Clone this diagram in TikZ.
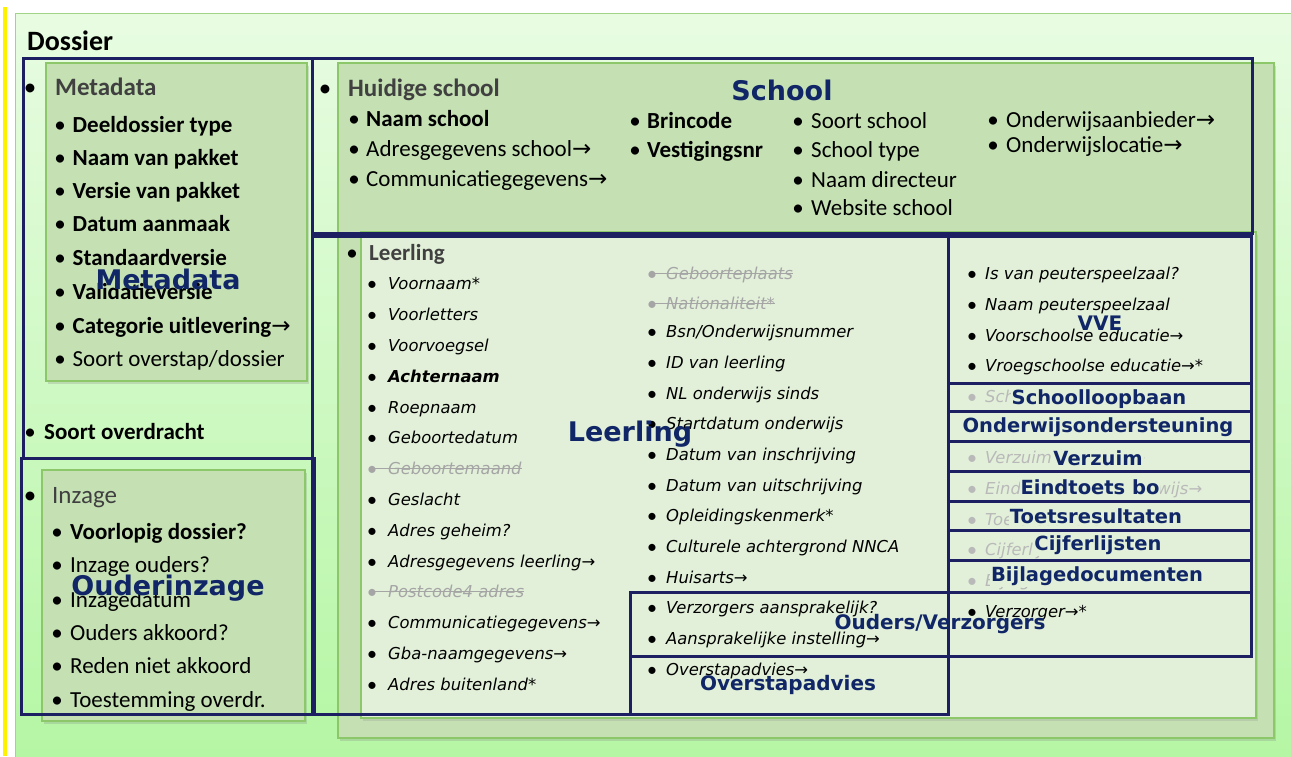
\documentclass[tikz,border=0pt]{standalone}
\usepackage{fontspec}
\setmainfont{Carlito}
\newfontfamily\vfont{DejaVu Sans}
\newfontfamily\arrfont{DejaVu Sans}
\usetikzlibrary{shadows}
\definecolor{navy}{RGB}{28,32,98}
\definecolor{lbl}{RGB}{16,38,102}
\definecolor{midgreen}{RGB}{197,225,180}
\definecolor{lightin}{RGB}{226,240,217}
\definecolor{gborder}{RGB}{140,200,105}
\definecolor{hdr}{RGB}{64,64,64}
\definecolor{strk}{RGB}{165,165,165}
\definecolor{hid}{RGB}{185,185,185}
\definecolor{bgtop}{RGB}{232,252,226}
\definecolor{bgbot}{RGB}{180,246,163}
\definecolor{frame}{RGB}{160,212,135}
\newcommand\bul{{\normalfont\mdseries\upshape •}}
\newcommand\bi[2]{\makebox[#1pt][c]{\bul}#2}
\newcommand\bj[2]{\makebox[#1pt][c]{\raisebox{-1pt}{\normalfont\mdseries\upshape\fontsize{20}{20}\selectfont •}}#2}
\newcommand\ar{{\arrfont\upshape\mdseries →}}
\tikzset{
  cal/.style={anchor=base west, inner sep=0pt, font=\fontsize{23}{23}\selectfont},
  calb/.style={anchor=base west, inner sep=0pt, font=\fontsize{23}{23}\selectfont\bfseries},
  hd/.style={anchor=base west, inner sep=0pt, font=\fontsize{25}{25}\selectfont\bfseries},
  it/.style={anchor=base west, inner sep=0pt, font=\vfont\fontsize{16.4}{16.4}\selectfont\itshape},
  big/.style={font=\vfont\fontsize{27}{27}\selectfont\bfseries, text=lbl, inner sep=0pt},
  sm/.style={font=\vfont\fontsize{19.5}{19.5}\selectfont\bfseries, text=lbl, inner sep=0pt},
  rowlbl/.style={sm, fill=lightin, inner sep=1pt},
  nbox/.style={draw=navy, line width=3pt},
  gbox/.style={draw=gborder, line width=1.2pt, fill=midgreen,
    drop shadow={shadow xshift=2pt, shadow yshift=-3pt, opacity=0.25}},
  strike/.style={draw=strk, line width=1pt},
}
\begin{document}
\begin{tikzpicture}[x=1pt,y=-1pt]
\useasboundingbox (0,0) rectangle (1291,756);
\fill[white] (0,0) rectangle (1291,756);
% yellow line and outer frame
\fill[yellow] (3,7) rectangle (7,756);
\draw[draw=frame, line width=1pt, top color=bgtop, bottom color=bgbot] (15,13) rectangle (1300,770);
\node[hd, anchor=base west, font=\fontsize{28}{28}\selectfont\bfseries] (dossier) at (27,50) {Dossier};

% green boxes
\draw[gbox] (46,63) rectangle (307,381);
\draw[gbox] (42,470) rectangle (305,721);
\draw[gbox] (338,63) rectangle (1274,738);
\draw[draw=gborder, line width=1.2pt, fill=lightin,
  drop shadow={shadow xshift=2pt, shadow yshift=-3pt, opacity=0.2}] (361,232) rectangle (1256,718);

% Metadata
\node[hd] (mh) at (5,95) {\bi{50}{\textcolor{hdr}{Metadata}}};
\node[calb] (m1) at (47.5,132) {\bi{25}{Deeldossier type}};
\node[calb] (m2) at (47.5,165) {\bi{25}{Naam van pakket}};
\node[calb] (m3) at (47.5,198) {\bi{25}{Versie van pakket}};
\node[calb] (m4) at (47.5,231) {\bi{25}{Datum aanmaak}};
\node[calb] (m5) at (47.5,265) {\bi{25}{Standaardversie}};
\node[calb] (m6) at (47.5,299) {\bi{25}{Validatieversie}};
\node[calb] (m7) at (47.5,333) {\bi{25}{Categorie uitlevering\ar}};
\node[cal]  (m8) at (47.5,366) {\bi{25}{Soort overstap/dossier}};
\node[calb] (so) at (16,439) {\bi{28}{Soort overdracht}};

% Inzage
\node[cal, font=\fontsize{25}{25}\selectfont] (ih) at (8,503) {\bi{44}{\textcolor{hdr}{Inzage}}};
\node[calb] (i1) at (44,539) {\bi{26}{Voorlopig dossier?}};
\node[cal]  (i2) at (44,572) {\bi{26}{Inzage ouders?}};
\node[cal]  (i3) at (44,607) {\bi{26}{Inzagedatum}};
\node[cal]  (i4) at (44,640) {\bi{26}{Ouders akkoord?}};
\node[cal]  (i5) at (44,673) {\bi{26}{Reden niet akkoord}};
\node[cal]  (i6) at (44,707) {\bi{26}{Toestemming overdr.}};

% School
\node[hd] (sh) at (302,96) {\bi{46}{\textcolor{hdr}{Huidige school}}};
\node[calb] (s1) at (342,126) {\bi{24}{Naam school}};
\node[cal]  (s2) at (342,156) {\bi{24}{Adresgegevens school\ar}};
\node[cal]  (s3) at (342,186) {\bi{24}{Communicatiegegevens\ar}};
\node[calb] (s4) at (623,128) {\bi{24}{Brincode}};
\node[calb] (s5) at (623,157) {\bi{24}{Vestigingsnr}};
\node[cal]  (s6) at (785,128) {\bi{26}{Soort school}};
\node[cal]  (s7) at (785,157) {\bi{26}{School type}};
\node[cal]  (s8) at (785,187) {\bi{26}{Naam directeur}};
\node[cal]  (s9) at (785,215) {\bi{26}{Website school}};
\node[cal]  (s10) at (980,127) {\bi{26}{Onderwijsaanbieder\ar}};
\node[cal]  (s11) at (980,152) {\bi{26}{Onderwijslocatie\ar}};

% Leerling left column
\node[calb] (lh) at (335,260) {\bi{34}{\textcolor{hdr}{Leerling}}};
\node[it] (l1) at (356,289) {\bj{32}{Voornaam*}};
\node[it] (l2) at (356,320) {\bj{32}{Voorletters}};
\node[it] (l3) at (356,351) {\bj{32}{Voorvoegsel}};
\node[it, font=\vfont\fontsize{16.4}{16.4}\selectfont\itshape\bfseries] (l4) at (356,382) {\bj{32}{Achternaam}};
\node[it] (l5) at (356,413) {\bj{32}{Roepnaam}};
\node[it] (l6) at (356,443) {\bj{32}{Geboortedatum}};
\node[it, text=strk] (l7) at (356,474) {\bj{32}{Geboortemaand}};
\node[it] (l8) at (356,505) {\bj{32}{Geslacht}};
\node[it] (l9) at (356,536) {\bj{32}{Adres geheim?}};
\node[it] (l10) at (356,567) {\bj{32}{Adresgegevens leerling\ar}};
\node[it, text=strk] (l11) at (356,597) {\bj{32}{Postcode4 adres}};
\node[it] (l12) at (356,628) {\bj{32}{Communicatiegegevens\ar}};
\node[it] (l13) at (356,659) {\bj{32}{Gba-naamgegevens\ar}};
\node[it] (l14) at (356,690) {\bj{32}{Adres buitenland*}};
\draw[strike] ([xshift=14pt,yshift=5.5pt]l7.base west) -- ([yshift=5.5pt]l7.base east);
\draw[strike] ([xshift=14pt,yshift=5.5pt]l11.base west) -- ([yshift=5.5pt]l11.base east);

% Leerling middle column
\node[it, text=strk] (c1) at (638,279) {\bj{28}{Geboorteplaats}};
\node[it, text=strk] (c2) at (638,309) {\bj{28}{Nationaliteit*}};
\node[it] (c3) at (638,337) {\bj{28}{Bsn/Onderwijsnummer}};
\node[it] (c4) at (638,368) {\bj{28}{ID van leerling}};
\node[it] (c5) at (638,399) {\bj{28}{NL onderwijs sinds}};
\node[it] (c6) at (638,429) {\bj{28}{Startdatum onderwijs}};
\node[it] (c7) at (638,460) {\bj{28}{Datum van inschrijving}};
\node[it] (c8) at (638,491) {\bj{28}{Datum van uitschrijving}};
\node[it] (c9) at (638,521) {\bj{28}{Opleidingskenmerk*}};
\node[it] (c10) at (638,552) {\bj{28}{Culturele achtergrond NNCA}};
\node[it] (c11) at (638,583) {\bj{28}{Huisarts\ar}};
\node[it] (c12) at (638,613) {\bj{28}{Verzorgers aansprakelijk?}};
\node[it] (c13) at (638,644) {\bj{28}{Aansprakelijke instelling\ar}};
\node[it] (c14) at (638,675) {\bj{28}{Overstapadvies\ar}};
\draw[strike] ([xshift=12pt,yshift=5.5pt]c1.base west) -- ([yshift=5.5pt]c1.base east);
\draw[strike] ([xshift=12pt,yshift=5.5pt]c2.base west) -- ([yshift=5.5pt]c2.base east);

% VVE column
\node[it] (v1) at (959,279) {\bj{26}{Is van peuterspeelzaal?}};
\node[it] (v2) at (959,310) {\bj{26}{Naam peuterspeelzaal}};
\node[it] (v3) at (959,341) {\bj{26}{Voorschoolse educatie\ar}};
\node[it] (v4) at (959,371) {\bj{26}{Vroegschoolse educatie\ar*}};
\node[it, text=hid] (h1) at (959,402) {\bj{26}{Schoolloopbaan\ar}};
\node[it, text=hid] (h2) at (959,463) {\bj{26}{Verzuimgegevens\ar}};
\node[it, text=hid] (h3) at (959,494) {\bj{26}{Eindtoets basisonderwijs\ar}};
\node[it, text=hid] (h4) at (959,525) {\bj{26}{Toetsresultaten\ar}};
\node[it, text=hid] (h5) at (959,555) {\bj{26}{Cijferlijsten\ar}};
\node[it, text=hid] (h6) at (959,586) {\bj{26}{Bijlagedocumenten\ar}};
\node[it] (v5) at (959,617) {\bj{26}{Verzorger\ar*}};

% navy boxes
\draw[nbox] (23,58) rectangle (312,458);
\draw[nbox] (21,458) rectangle (314,714);
\draw[nbox] (312,58) rectangle (1252,233);
\draw[nbox] (312,236) rectangle (948,714);
\draw[nbox] (948,236) rectangle (1251,383);
\draw[nbox] (948,383) rectangle (1251,411);
\draw[nbox] (948,411) rectangle (1251,441);
\draw[nbox] (948,441) rectangle (1251,471);
\draw[nbox] (948,471) rectangle (1251,501);
\draw[nbox] (948,501) rectangle (1251,530);
\draw[nbox] (948,530) rectangle (1251,560);
\draw[nbox] (948,560) rectangle (1251,592);
\draw[nbox] (630,592) rectangle (1251,656);
\draw[nbox] (630,656) rectangle (948,714);

% labels
\node[big] (lschool) at (782,90) {School};
\node[big] (lmeta) at (168,279) {Metadata};
\node[big] (louder) at (168,588) {Ouderinzage};
\node[big] (lleer) at (630,434) {Leerling};
\node[sm, font=\vfont\fontsize{20}{20}\selectfont\bfseries] (lvve) at (1100,323) {VVE};
\node[rowlbl] (lsl) at (1099,399) {Schoolloopbaan};
\node[rowlbl] (low) at (1098,427) {Onderwijsondersteuning};
\node[rowlbl] (lvz) at (1098,458) {Verzuim};
\node[rowlbl] (let) at (1090,487) {Eindtoets bo};
\node[rowlbl] (ltr) at (1096,516) {Toetsresultaten};
\node[rowlbl] (lcl) at (1098,545) {Cijferlijsten};
\node[rowlbl] (lbd) at (1097,576) {Bijlagedocumenten};
\node[sm, font=\vfont\fontsize{20}{20}\selectfont\bfseries] (lov) at (940,624) {Ouders/Verzorgers};
\node[sm, font=\vfont\fontsize{20}{20}\selectfont\bfseries] (losa) at (788,685) {Overstapadvies};
\end{tikzpicture}
\end{document}
